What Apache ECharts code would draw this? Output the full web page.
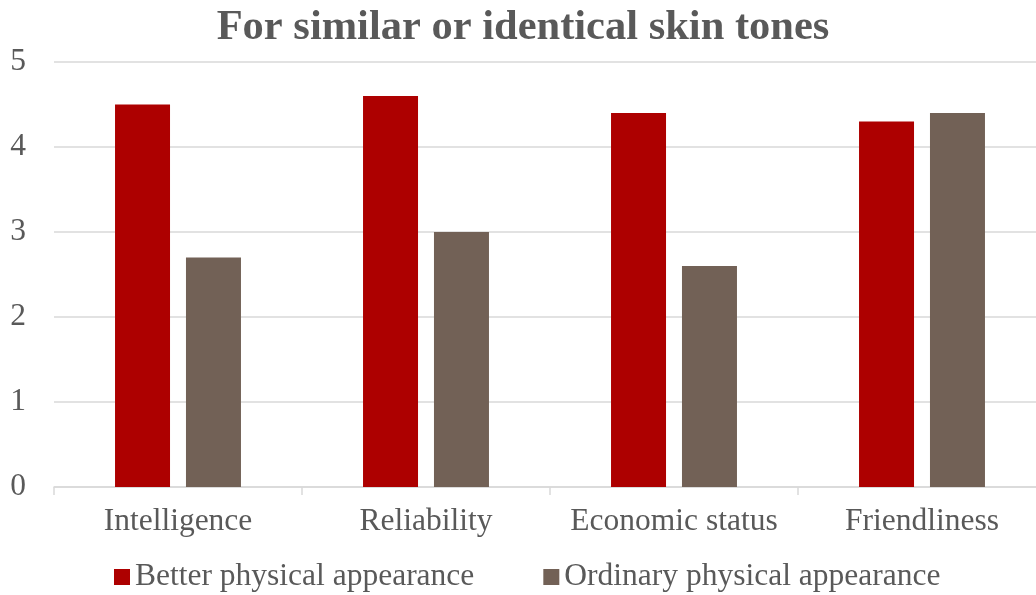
<!DOCTYPE html>
<html>
<head>
<meta charset="utf-8">
<script src="https://cdn.jsdelivr.net/npm/echarts@6/dist/echarts.min.js"></script>
<style>
  html, body { margin: 0; padding: 0; background: #fff; overflow: hidden; }
  /* the plot area runs a little past the right edge of the window */
  #chart { width: 1046px; height: 595px; }
</style>
</head>
<body>
<div id="chart"></div>
<script>
// Ratings by trait, grouped by physical appearance
const categories = ['Intelligence', 'Reliability', 'Economic status', 'Friendliness'];
const betterAppearance = [4.5, 4.6, 4.4, 4.3];
const ordinaryAppearance = [2.7, 3.0, 2.6, 4.4];
const seriesNames = ['Better physical appearance', 'Ordinary physical appearance'];

const FONT = '"Liberation Serif", "Times New Roman", serif';
const TEXT = '#595959';

const chart = echarts.init(document.getElementById('chart'), null, { renderer: 'canvas' });
chart.setOption({
  animation: false,
  backgroundColor: '#fff',
  title: {
    text: 'For similar or identical skin tones',
    left: 'center',
    top: 2,
    textStyle: { fontFamily: FONT, fontWeight: 'bold', fontSize: 42.5, color: TEXT }
  },
  legend: {
    bottom: -3,
    left: 109,
    itemWidth: 16,
    itemHeight: 16,
    itemGap: 69,
    icon: 'rect',
    textStyle: { fontFamily: FONT, fontSize: 31.5, color: TEXT },
    data: seriesNames
  },
  grid: { left: 54, right: 0, top: 62, height: 425, containLabel: false },
  xAxis: {
    type: 'category',
    data: categories,
    axisLine: { lineStyle: { color: '#d9d9d9', width: 1.5 } },
    axisTick: { show: true, length: 8, lineStyle: { color: '#d9d9d9', width: 1.5 } },
    axisLabel: { interval: 0, fontFamily: FONT, fontSize: 31.5, color: TEXT, margin: 19 }
  },
  yAxis: {
    type: 'value',
    min: 0,
    max: 5,
    interval: 1,
    axisLine: { show: false },
    axisTick: { show: false },
    splitLine: { lineStyle: { color: '#d9d9d9', width: 1.5 } },
    axisLabel: { fontFamily: FONT, fontSize: 31.5, color: TEXT, margin: 28 }
  },
  series: [
    {
      name: seriesNames[0],
      type: 'bar',
      data: betterAppearance,
      barWidth: 55,
      barGap: '29%',
      itemStyle: { color: '#ad0000' }
    },
    {
      name: seriesNames[1],
      type: 'bar',
      data: ordinaryAppearance,
      barWidth: 55,
      barGap: '29%',
      itemStyle: { color: '#726156' }
    }
  ]
});
</script>
</body>
</html>
